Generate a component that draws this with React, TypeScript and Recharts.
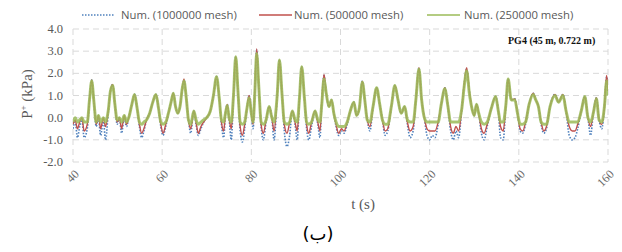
import React from "react";
import { LineChart, Line, XAxis, YAxis, CartesianGrid } from "recharts";

const times = [
  40.0, 40.5, 41.0, 41.5, 42.0, 42.5, 43.2, 43.7, 44.2, 44.7, 45.2, 45.7, 46.2, 46.8, 47.3, 47.9, 48.4, 48.9, 49.4, 49.9,
  50.4, 50.9, 51.5, 52.0, 52.5, 53.2, 53.8, 54.4, 54.9, 55.4, 55.9, 56.5, 57.2, 57.9, 58.6, 59.2, 59.7, 60.2, 60.8, 61.4,
  62.0, 62.5, 63.0, 63.5, 64.0, 64.5, 64.9, 65.4, 65.9, 66.4, 67.1, 67.6, 68.1, 68.7, 69.3, 70.0, 70.8, 71.5, 72.2, 72.8,
  73.3, 73.8, 74.2, 74.6, 75.0, 75.5, 76.0, 76.5, 77.0, 77.5, 78.0, 78.5, 79.0, 79.5, 80.0, 80.4, 80.8, 81.2, 81.7, 82.2,
  82.7, 83.3, 84.0, 84.6, 85.1, 85.8, 86.3, 86.9, 87.4, 88.0, 88.6, 89.2, 89.8, 90.3, 90.8, 91.3, 91.9, 92.4, 92.9, 93.5,
  94.3, 94.9, 95.4, 95.8, 96.3, 96.8, 97.4, 98.0, 98.5, 99.0, 99.6, 100.2, 100.8, 101.5, 102.2, 103.0, 103.6, 104.2, 104.9, 105.5,
  106.0, 106.6, 107.3, 108.1, 108.8, 109.4, 110.0, 110.6, 111.4, 112.2, 112.9, 113.6, 114.4, 115.0, 115.6, 116.3, 116.9, 117.6, 118.2, 118.8,
  119.4, 120.0, 120.6, 121.2, 121.9, 122.6, 123.4, 124.1, 124.7, 125.3, 125.9, 126.5, 127.2, 127.8, 128.3, 128.9, 129.5, 130.0, 130.5, 131.0,
  131.6, 132.2, 132.9, 133.8, 134.8, 135.4, 135.9, 136.5, 137.1, 137.6, 138.3, 139.1, 139.7, 140.3, 140.9, 141.5, 142.3, 143.2, 143.8, 144.4,
  145.0, 145.6, 146.2, 147.0, 148.1, 148.9, 149.9, 150.6, 151.3, 152.0, 152.6, 153.2, 154.0, 154.8, 155.5, 156.1, 156.7, 157.4, 158.0, 158.6,
  159.2, 159.7, 160.0,
];

const mesh500k = [
  -0.3, -0.1, -0.5, -0.2, 0.0, -0.6, -0.3, 0.8, 1.7, 0.7, -0.3, 0.1, -0.5, 0.0, -0.4, 0.3, 1.2, 1.5, 0.6, -0.2,
  0.0, -0.5, 0.1, -0.3, 0.0, 0.6, 1.05, 0.4, -0.3, -0.7, -0.5, -0.1, 0.2, 0.7, 1.05, 0.4, -0.3, -0.7, -0.3, 0.2,
  0.7, 1.1, 0.5, 0.2, 0.5, 1.3, 1.75, 0.9, -0.1, -0.5, 0.3, -0.2, -0.7, -0.4, -0.2, 0.0, 0.3, 1.0, 1.85, 0.9,
  -0.2, -0.6, 0.2, 0.6, 0.0, -0.5, 1.0, 2.75, 1.2, -0.4, -0.8, -0.3, 0.4, 1.0, 0.2, -0.3, 1.3, 3.1, 1.3, -0.3,
  -0.7, -0.1, 0.5, 0.0, -0.6, 1.0, 2.6, 1.0, -0.3, -0.7, -0.2, 0.3, -0.2, -0.6, 0.9, 2.3, 0.9, -0.3, -0.7, -0.2,
  0.3, -0.2, -0.6, 0.7, 1.95, 1.1, 0.5, 0.8, 0.2, -0.3, -0.7, -0.5, -0.6, -0.2, 0.3, 0.7, 0.1, 0.4, 1.65, 0.7,
  -0.1, -0.4, 0.5, 1.35, 0.6, -0.1, -0.6, -0.5, 0.5, 1.45, 0.8, 0.2, 0.5, -0.2, -0.6, -0.4, 0.8, 2.25, 0.8, 0.0,
  -0.5, -0.6, -0.6, -0.6, -0.2, 0.6, 1.35, 0.5, -0.4, -0.7, -0.4, -0.6, 0.4, 1.6, 2.25, 1.2, 0.4, 0.1, 0.6, 0.2,
  -0.5, -0.7, -0.3, 0.4, 0.95, 0.3, -0.4, -0.6, 0.6, 1.75, 0.8, 0.85, 0.2, -0.5, -0.6, -0.2, 0.6, 1.1, 0.8, 0.5,
  -0.2, -0.6, -0.4, 0.5, 1.05, 0.7, 1.05, 0.3, -0.4, -0.6, -0.6, -0.3, 0.3, 0.95, 0.0, -0.4, 0.2, 0.9, -0.1, -0.3,
  0.5, 1.9, 1.2,
];

const mesh250k = [
  -0.2, 0.0, -0.2, -0.1, 0.0, -0.2, -0.2, 0.8, 1.65, 0.7, -0.2, 0.1, -0.2, 0.0, -0.2, 0.3, 1.2, 1.45, 0.6, -0.1,
  0.0, -0.2, 0.1, -0.2, 0.0, 0.6, 1.05, 0.4, -0.2, -0.3, -0.2, -0.1, 0.2, 0.7, 1.05, 0.4, -0.2, -0.3, -0.2, 0.2,
  0.7, 1.1, 0.5, 0.2, 0.5, 1.3, 1.65, 0.9, -0.1, -0.3, 0.3, -0.1, -0.3, -0.2, -0.1, 0.0, 0.3, 1.0, 1.85, 0.9,
  -0.1, -0.2, 0.2, 0.55, 0.0, -0.2, 1.0, 2.75, 1.2, -0.2, -0.3, -0.2, 0.4, 0.9, 0.2, -0.2, 1.2, 2.9, 1.3, -0.2,
  -0.3, -0.1, 0.5, 0.0, -0.2, 1.0, 2.6, 1.0, -0.2, -0.3, -0.2, 0.3, -0.1, -0.2, 0.9, 2.3, 0.9, -0.2, -0.3, -0.2,
  0.3, -0.1, -0.2, 0.6, 1.75, 1.1, 0.5, 0.8, 0.2, -0.2, -0.4, -0.4, -0.4, -0.2, 0.3, 0.7, 0.1, 0.4, 1.6, 0.7,
  -0.1, -0.2, 0.5, 1.35, 0.6, -0.1, -0.3, -0.3, 0.5, 1.45, 0.8, 0.2, 0.5, -0.1, -0.2, -0.2, 0.8, 2.2, 0.8, 0.0,
  -0.2, -0.2, -0.2, -0.2, -0.2, 0.6, 1.3, 0.5, -0.2, -0.2, -0.2, -0.2, 0.4, 1.5, 2.1, 1.1, 0.4, 0.1, 0.6, 0.2,
  -0.2, -0.3, -0.2, 0.4, 0.95, 0.3, -0.2, -0.2, 0.6, 1.75, 0.8, 0.8, 0.2, -0.3, -0.3, -0.2, 0.6, 1.05, 0.8, 0.5,
  -0.2, -0.3, -0.3, 0.5, 1.0, 0.7, 1.0, 0.3, -0.2, -0.2, -0.2, -0.2, 0.3, 0.95, 0.0, -0.2, 0.2, 0.85, -0.1, -0.2,
  0.5, 1.65, 1.0,
];

const mesh1000k = [
  -0.5, -0.2, -0.9, -0.4, -0.1, -0.9, -0.5, 0.8, 1.7, 0.7, -0.4, 0.0, -0.8, -0.1, -1.0, 0.2, 1.2, 1.5, 0.6, -0.3,
  0.0, -0.7, 0.0, -0.4, 0.0, 0.6, 1.05, 0.4, -0.4, -0.9, -0.6, -0.1, 0.2, 0.7, 1.05, 0.4, -0.4, -0.8, -0.4, 0.2,
  0.7, 1.1, 0.5, 0.2, 0.5, 1.3, 1.7, 0.9, -0.1, -0.7, 0.3, -0.3, -0.8, -0.5, -0.2, 0.0, 0.3, 1.0, 1.85, 0.9,
  -0.3, -0.9, 0.2, 0.6, 0.0, -1.0, 1.0, 2.75, 1.2, -0.6, -1.1, -0.5, 0.4, 1.0, 0.2, -0.5, 1.3, 3.05, 1.3, -0.4,
  -1.0, -0.2, 0.5, 0.0, -1.0, 1.0, 2.6, 1.0, -0.6, -1.3, -0.8, 0.3, -0.3, -1.0, 0.9, 2.3, 0.9, -0.5, -1.0, -0.4,
  0.3, -0.3, -0.9, 0.7, 1.9, 1.1, 0.5, 0.8, 0.2, -0.4, -0.8, -0.6, -0.7, -0.3, 0.3, 0.7, 0.1, 0.4, 1.65, 0.7,
  -0.1, -0.6, 0.5, 1.35, 0.6, -0.1, -0.8, -0.6, 0.5, 1.45, 0.8, 0.2, 0.5, -0.3, -0.9, -0.6, 0.8, 2.25, 0.8, 0.0,
  -0.8, -1.0, -0.8, -0.9, -0.3, 0.6, 1.35, 0.5, -0.6, -1.0, -0.6, -0.9, 0.4, 1.6, 2.2, 1.2, 0.4, 0.1, 0.6, 0.2,
  -0.7, -1.0, -0.4, 0.4, 0.95, 0.3, -0.9, -1.0, 0.6, 1.75, 0.8, 0.85, 0.2, -0.6, -0.7, -0.3, 0.6, 1.1, 0.8, 0.5,
  -0.3, -0.7, -0.5, 0.5, 1.05, 0.7, 1.05, 0.3, -0.8, -1.0, -0.9, -0.5, 0.3, 0.95, 0.0, -0.8, 0.2, 0.9, -0.1, -0.5,
  0.5, 1.85, 1.2,
];

const xTicks = [40, 60, 80, 100, 120, 140, 160];
const yTicks = [-2, -1, 0, 1, 2, 3, 4];
const seriesNames = ["Num. (1000000 mesh)", "Num. (500000 mesh)", "Num. (250000 mesh)"];

const data = times.map((t, i) => ({
  t,
  a: mesh1000k[i],
  b: mesh500k[i],
  c: mesh250k[i],
}));

const SERIF = "'Liberation Serif', 'Times New Roman', serif";
const SANS = "'Open Sans', 'Liberation Sans', sans-serif";
const GRAY = "#595959";

const XTick = (props: any) => {
  const { x, y, payload } = props;
  const ax = x + 4;
  const ay = y + 2;
  return (
    <text
      x={ax}
      y={ay}
      textAnchor="end"
      dominantBaseline="central"
      fontFamily={SERIF}
      fontSize={12}
      fill="#6b6b6b"
      transform={`rotate(-45, ${ax}, ${ay})`}
    >
      {payload.value}
    </text>
  );
};

const YTick = (props: any) => {
  const { x, y, payload } = props;
  return (
    <text x={x} y={y} textAnchor="end" dominantBaseline="central" fontFamily={SERIF} fontSize={12.5} fill={GRAY}>
      {Number(payload.value).toFixed(1)}
    </text>
  );
};

const LegendItem = ({ left, textLeft, kind, label }: { left: number; textLeft: number; kind: string; label: string }) => (
  <>
    <svg width={34} height={16} style={{ position: "absolute", left, top: 7, display: "block" }}>
      {kind === "blue" && <line x1={0} y1={8} x2={33} y2={8} stroke="#4F81BD" strokeWidth={1.5} strokeDasharray="1.5 1.5" />}
      {kind === "red" && <line x1={0} y1={8} x2={33} y2={8} stroke="#C0504D" strokeWidth={1.3} />}
      {kind === "green" && <line x1={0} y1={8} x2={33} y2={8} stroke="#9BBB59" strokeWidth={1.6} />}
    </svg>
    <div style={{ position: "absolute", left: textLeft, top: 6, fontFamily: SANS, fontSize: 11.3, lineHeight: "18px", color: GRAY, whiteSpace: "nowrap" }}>
      {label}
    </div>
  </>
);

export default function App() {
  return (
    <div style={{ position: "absolute", left: 0, top: 0, width: 622, height: 252, background: "#fff", overflow: "hidden" }}>
      <LineChart width={622} height={252} data={data} margin={{ top: 29, right: 14, bottom: 50, left: 10 }}>
        <CartesianGrid stroke="#d9d9d9" strokeDasharray="6 4" horizontal vertical />
        <XAxis
          dataKey="t"
          type="number"
          domain={[40, 160]}
          ticks={xTicks}
          axisLine={false}
          tickLine={false}
          tick={<XTick />}
          height={40}
          interval={0}
          allowDataOverflow
        />
        <YAxis
          type="number"
          domain={[-2, 4]}
          ticks={yTicks}
          axisLine={false}
          tickLine={false}
          tickSize={0}
          tickMargin={10}
          tick={<YTick />}
          width={63}
          interval={0}
          allowDataOverflow
        />
        <Line dataKey="a" type="monotone" stroke="#4F81BD" strokeWidth={1.6} strokeDasharray="1.5 1.5" dot={false} isAnimationActive={false} />
        <Line dataKey="b" type="monotone" stroke="#C0504D" strokeWidth={1.4} dot={false} isAnimationActive={false} />
        <Line dataKey="c" type="monotone" stroke="#9BBB59" strokeWidth={3} strokeOpacity={0.85} dot={false} isAnimationActive={false} />
      </LineChart>

      <LegendItem left={82} textLeft={121} kind="blue" label={seriesNames[0]} />
      <LegendItem left={259} textLeft={294} kind="red" label={seriesNames[1]} />
      <LegendItem left={427} textLeft={464} kind="green" label={seriesNames[2]} />

      <div style={{ position: "absolute", left: 508, top: 35, fontFamily: SERIF, fontWeight: "bold", fontSize: 10, color: "#111", whiteSpace: "nowrap" }}>
        PG4 (45 m, 0.722 m)
      </div>

      <div
        style={{
          position: "absolute",
          left: 27,
          top: 94,
          transform: "translate(-50%, -50%) rotate(-90deg)",
          fontFamily: SERIF,
          fontSize: 15,
          color: GRAY,
          whiteSpace: "nowrap",
        }}
      >
        P<sup style={{ fontSize: 9 }}>+</sup> (kPa)
      </div>

      <div style={{ position: "absolute", left: 363, top: 204, transform: "translate(-50%, -50%)", fontFamily: SERIF, fontSize: 15, color: GRAY, whiteSpace: "nowrap" }}>
        t (s)
      </div>

      <div style={{ position: "absolute", left: 318, top: 233, transform: "translate(-50%, -50%)", fontFamily: "'DejaVu Sans', sans-serif", fontSize: 18, color: "#000", whiteSpace: "nowrap" }}>
        (ب)
      </div>
    </div>
  );
}
